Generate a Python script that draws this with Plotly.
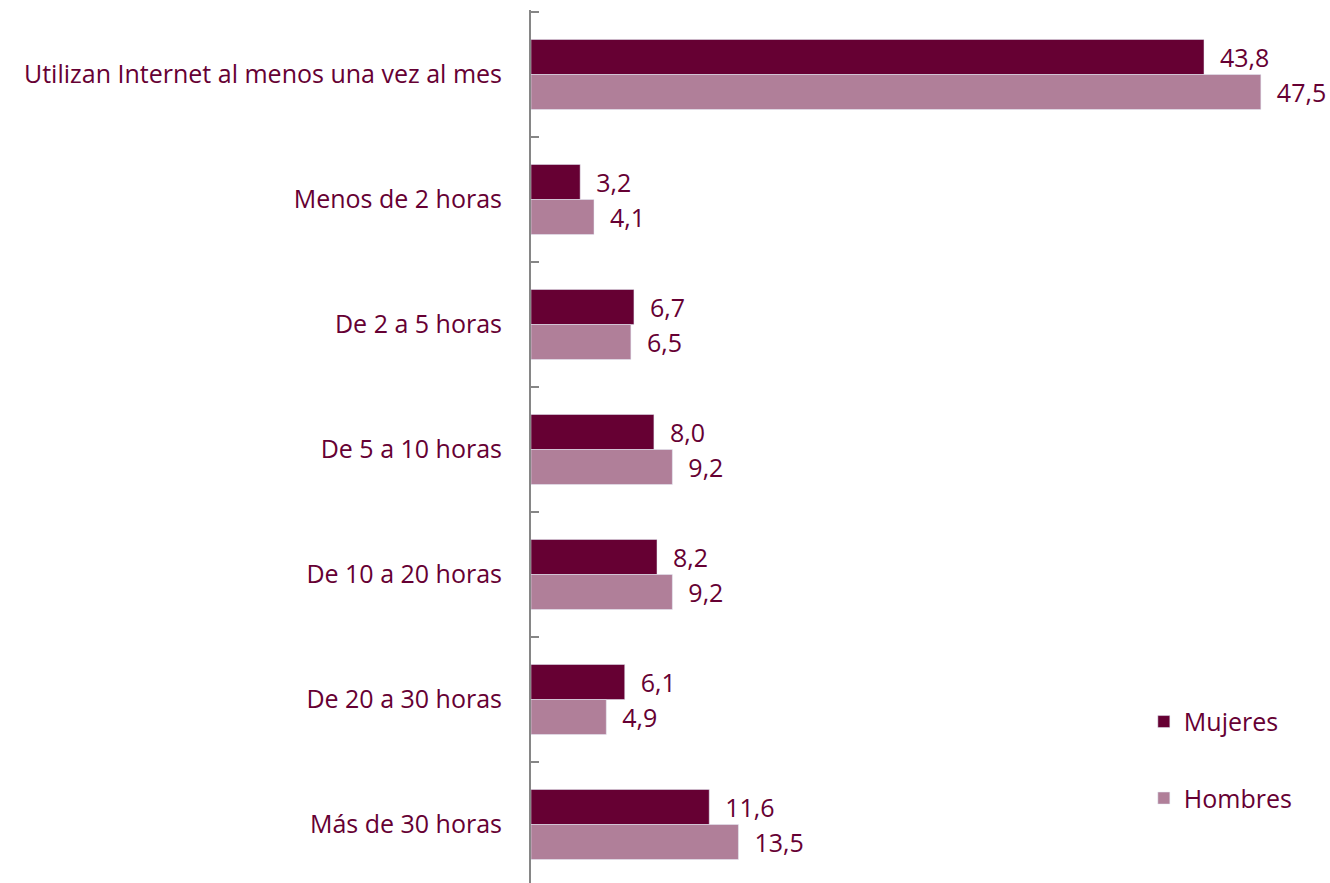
import plotly.graph_objects as go

categories = [
    "Utilizan Internet al menos una vez al mes",
    "Menos de 2 horas",
    "De 2 a 5 horas",
    "De 5 a 10 horas",
    "De 10 a 20 horas",
    "De 20 a 30 horas",
    "Más de 30 horas",
]
mujeres = [43.8, 3.2, 6.7, 8.0, 8.2, 6.1, 11.6]
hombres = [47.5, 4.1, 6.5, 9.2, 9.2, 4.9, 13.5]

DARK = "#660033"
LIGHT = "#B07F99"
TXT = "#660033"
FONT = "Open Sans"
FS = 25

fig = go.Figure()
fig.add_trace(go.Bar(
    name="Mujeres", y=categories, x=mujeres, orientation="h",
    marker=dict(color=DARK), texttemplate="  %{x:.1f}", textposition="outside",
    textfont=dict(color=TXT, size=FS, family=FONT), cliponaxis=False,
    legendgroup="m",
))
fig.add_trace(go.Bar(
    name="Hombres", y=categories, x=hombres, orientation="h",
    marker=dict(color=LIGHT), texttemplate="  %{x:.1f}", textposition="outside",
    textfont=dict(color=TXT, size=FS, family=FONT), cliponaxis=False,
    legendgroup="h",
))

fig.update_layout(
    width=1330, height=883,
    margin=dict(l=531, r=0, t=10, b=0),
    barmode="group", bargap=0.44, bargroupgap=0,
    separators=",.",
    plot_bgcolor="white", paper_bgcolor="white",
    font=dict(family=FONT, color=TXT, size=FS),
    legend=dict(
        xref="paper", yref="paper", x=0.767, y=0.211,
        xanchor="left", yanchor="top",
        font=dict(size=FS, color=TXT, family=FONT),
        tracegroupgap=41, traceorder="grouped",
        bgcolor="rgba(0,0,0,0)",
    ),
    showlegend=True,
)
fig.update_xaxes(range=[0, 52], visible=False, showgrid=False, zeroline=False)
fig.update_yaxes(
    range=[6.468, -0.516], showline=True, linecolor="#868686", linewidth=2,
    ticks="inside", tickson="boundaries", ticklen=8, tickcolor="#868686", tickwidth=2,
    ticklabelstandoff=22, showgrid=False,
    tickfont=dict(size=FS, color=TXT, family=FONT),
)

fig.write_html("out.html")
